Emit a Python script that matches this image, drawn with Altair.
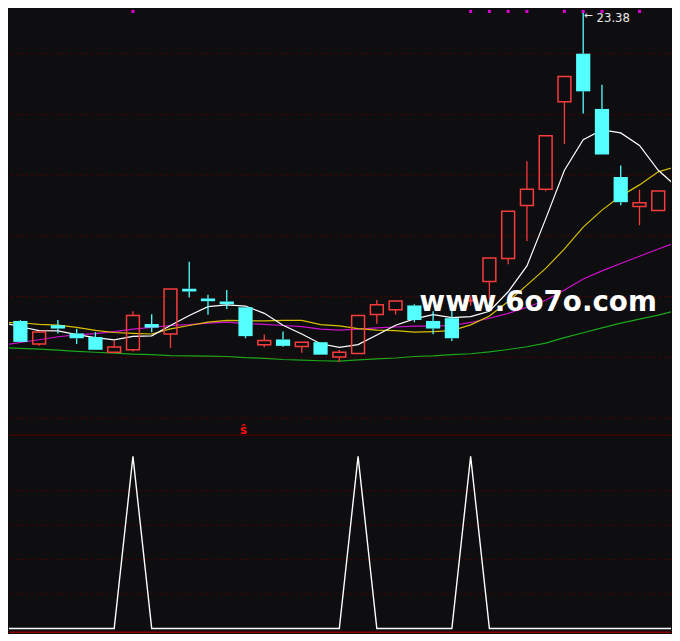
import altair as alt
import pandas as pd

# ---------------- data ----------------
idx = list(range(35))
opens = [13.20, 12.44, 13.06, 12.79, 12.67, 12.17, 12.25, 13.10, 12.77, 14.26,
         13.94, 13.84, 13.65, 12.42, 12.59, 12.36, 12.50, 12.01, 12.13, 13.41,
         13.57, 13.71, 13.20, 13.29, 13.86, 14.50, 15.26, 17.00, 17.54, 20.42,
         22.00, 20.18, 17.94, 16.97, 16.84]
highs = [13.23, 12.84, 13.23, 12.94, 12.83, 12.56, 13.52, 13.42, 14.25, 15.15,
         14.06, 14.22, 13.65, 12.75, 12.85, 12.50, 12.50, 12.24, 13.38, 13.89,
         13.86, 13.75, 13.52, 13.55, 14.00, 15.27, 16.81, 18.46, 19.30, 21.25,
         23.38, 20.98, 18.32, 17.52, 17.48]
lows = [12.50, 12.38, 12.79, 12.44, 12.25, 12.17, 12.19, 12.83, 12.31, 13.97,
        13.40, 13.59, 12.63, 12.33, 12.35, 12.15, 12.09, 11.85, 12.13, 13.11,
        13.41, 13.16, 12.76, 12.54, 13.70, 13.91, 15.07, 15.83, 17.47, 19.03,
        20.03, 18.68, 17.01, 16.35, 16.84]
closes = [12.51, 12.84, 12.95, 12.63, 12.25, 12.34, 13.38, 12.98, 14.25, 14.17,
          13.85, 13.75, 12.70, 12.56, 12.38, 12.50, 12.09, 12.17, 13.38, 13.73,
          13.86, 13.23, 12.95, 12.63, 13.88, 15.27, 16.81, 17.54, 19.30, 21.25,
          20.76, 18.68, 17.11, 17.09, 17.48]

ma_idx = list(range(-1, 36))
ma5 = [13.15, 13.01, 12.88, 12.87, 12.75, 12.65, 12.58, 12.69, 12.71, 13.05,
       13.38, 13.67, 13.73, 13.69, 13.45, 13.06, 12.77, 12.45, 12.33, 12.42,
       12.74, 13.06, 13.27, 13.41, 13.31, 13.34, 13.52, 14.16, 15.01, 16.56,
       18.16, 19.17, 19.49, 19.39, 18.98, 18.16, 17.61]
ma10 = [13.15, 13.14, 13.09, 13.06, 12.99, 12.89, 12.82, 12.79, 12.77, 12.94,
        13.05, 13.16, 13.22, 13.21, 13.20, 13.22, 13.22, 13.08, 13.04, 12.95,
        12.90, 12.88, 12.83, 12.85, 12.88, 13.07, 13.36, 13.84, 14.38, 14.93,
        15.57, 16.29, 16.85, 17.31, 17.68, 18.11, 18.29]
ma20 = [12.40, 12.49, 12.58, 12.68, 12.74, 12.78, 12.85, 12.93, 12.99, 13.05,
        13.08, 13.13, 13.16, 13.11, 13.09, 13.05, 13.01, 12.93, 12.90, 12.93,
        12.97, 13.00, 13.03, 13.03, 13.05, 13.15, 13.29, 13.45, 13.65, 13.88,
        14.22, 14.58, 14.85, 15.09, 15.33, 15.57, 15.79]
ma60 = [12.32, 12.30, 12.27, 12.24, 12.20, 12.17, 12.14, 12.11, 12.09, 12.06,
        12.05, 12.04, 12.03, 11.99, 11.97, 11.93, 11.91, 11.89, 11.88, 11.92,
        11.95, 11.98, 12.03, 12.05, 12.09, 12.12, 12.18, 12.26, 12.35, 12.47,
        12.65, 12.81, 12.97, 13.13, 13.26, 13.39, 13.55]

signal = [0, 0, 0, 0, 0, 0, 0, 1, 0, 0, 0, 0, 0, 0, 0, 0, 0, 0, 0, 1,
          0, 0, 0, 0, 0, 1, 0, 0, 0, 0, 0, 0, 0, 0, 0, 0, 0]

top_markers = [6, 24, 25, 26, 27, 29, 30, 31, 33]
grid_top = [22, 20, 18, 16, 14, 12, 10]
grid_bottom = [0.2, 0.4, 0.6, 0.8]
bottom_edge = [-0.022]
sell_mark = [{"i": 12, "v": 9.49, "t": "ŝ"}]
watermark = [{"i": 27.6, "v": 13.54, "t": "www.6o7o.com"}]

# ---------------- style ----------------
S = 664 / 680
BG = "#0e0e10"
RED = "#f83c3c"
CYAN = "#54ffff"
GRID = "#550000"
TOP_H = 426
BOT_H = 199

xs = alt.Scale(domain=[-0.607, 34.68], nice=False, zero=False, padding=0)
ys = alt.Scale(domain=[9.456, 23.44], nice=False, zero=False, padding=0)
bys = alt.Scale(domain=[-0.0266, 1.126], nice=False, zero=False, padding=0)

cdf = pd.DataFrame({"i": idx, "o": opens, "h": highs, "l": lows, "c": closes})
cdf["top"] = cdf[["o", "c"]].max(axis=1)
cdf["bot"] = cdf[["o", "c"]].min(axis=1)
cdf["kind"] = ["up" if c >= o else "down" for o, c in zip(opens, closes)]

X = alt.X("i:Q", scale=xs, axis=None)
kcolor = alt.Color("kind:N", scale=alt.Scale(domain=["up", "down"], range=[RED, CYAN]), legend=None)

grid = alt.Chart(pd.DataFrame({"v": grid_top})).mark_rule(
    color=GRID, strokeDash=[2, 3], strokeWidth=1
).encode(y=alt.Y("v:Q", scale=ys, axis=None))


def ma_line(vals, color, w=1.2):
    d = pd.DataFrame({"i": ma_idx, "v": vals})
    return alt.Chart(d).mark_line(color=color, strokeWidth=w, clip=True).encode(
        x=X, y=alt.Y("v:Q", scale=ys, axis=None)
    )


lines = (ma_line(ma60, "#1aa81a") + ma_line(ma20, "#d010d0")
         + ma_line(ma10, "#d8c000") + ma_line(ma5, "#ffffff"))

base = alt.Chart(cdf)
upper_wick = base.mark_rule(strokeWidth=1.3).encode(
    x=X, y=alt.Y("top:Q", scale=ys, axis=None), y2="h:Q", color=kcolor
).transform_filter("datum.h > datum.top")
lower_wick = base.mark_rule(strokeWidth=1.3).encode(
    x=X, y=alt.Y("l:Q", scale=ys, axis=None), y2="bot:Q", color=kcolor
).transform_filter("datum.l < datum.bot")
up_body = base.mark_bar(size=13.2 * S, fillOpacity=0, stroke=RED, strokeWidth=1.5).encode(
    x=X, y=alt.Y("bot:Q", scale=ys, axis=None), y2="top:Q"
).transform_filter("datum.kind == 'up'")
down_body = base.mark_bar(size=14.6 * S, color=CYAN).encode(
    x=X, y=alt.Y("bot:Q", scale=ys, axis=None), y2="top:Q"
).transform_filter("datum.kind == 'down'")

markers = alt.Chart(pd.DataFrame({"i": top_markers})).mark_square(
    size=9, color="#e000e0", opacity=1
).encode(x=X, y=alt.value(1.5))

hi_i = highs.index(max(highs))
hi_df = pd.DataFrame([{"i": hi_i, "v": max(highs), "t": f"{max(highs):.2f}"}])
hi_text = alt.Chart(hi_df).mark_text(
    align="left", baseline="alphabetic", dx=13.7 * S, dy=10.6 * S,
    font="DejaVu Sans", fontSize=12 * S, color="#e8e8e8"
).encode(x=X, y=alt.Y("v:Q", scale=ys, axis=None), text="t:N")
hi_arrow = alt.Chart(hi_df).mark_text(
    align="left", baseline="middle", dx=1, dy=4 * S,
    font="DejaVu Sans", fontSize=11 * S, color="#e8e8e8", text="←"
).encode(x=X, y=alt.Y("v:Q", scale=ys, axis=None))

sell = alt.Chart(pd.DataFrame(sell_mark)).mark_text(
    align="center", baseline="alphabetic", dx=-2 * S,
    font="DejaVu Sans", fontWeight="bold", fontSize=12 * S, color="#ff1010"
).encode(x=X, y=alt.Y("v:Q", scale=ys, axis=None), text="t:N")

wm = alt.Chart(pd.DataFrame(watermark)).mark_text(
    align="center", baseline="alphabetic",
    font="DejaVu Sans", fontWeight="bold", fontSize=28.5 * S, color="#ffffff"
).encode(x=X, y=alt.Y("v:Q", scale=ys, axis=None), text="t:N")

top = alt.layer(
    grid, lines, upper_wick, lower_wick, down_body, up_body, markers,
    hi_arrow, hi_text, sell, wm
).properties(width=664, height=TOP_H)

# ---------------- bottom panel ----------------
bgrid = alt.Chart(pd.DataFrame({"v": grid_bottom})).mark_rule(
    color=GRID, strokeDash=[2, 3], strokeWidth=1
).encode(y=alt.Y("v:Q", scale=bys, axis=None))
sep = alt.Chart(pd.DataFrame({"v": [0]})).mark_rule(color="#5e0000", strokeWidth=1).encode(
    y=alt.value(0.5)
)
bedge = alt.Chart(pd.DataFrame({"v": bottom_edge})).mark_rule(color="#8a0000", strokeWidth=1.5).encode(
    y=alt.Y("v:Q", scale=bys, axis=None)
)
sig = alt.Chart(pd.DataFrame({"i": ma_idx, "v": signal})).mark_line(
    color="#ffffff", strokeWidth=1.4, clip=True
).encode(x=X, y=alt.Y("v:Q", scale=bys, axis=None))

bottom = alt.layer(bgrid, sep, bedge, sig).properties(width=664, height=BOT_H)

chart = alt.vconcat(top, bottom, spacing=0).properties(
    padding=0, bounds="flush"
).configure(background=BG).configure_view(stroke=None)

chart.save("out.html", embed_options={"renderer": "svg", "actions": False})
